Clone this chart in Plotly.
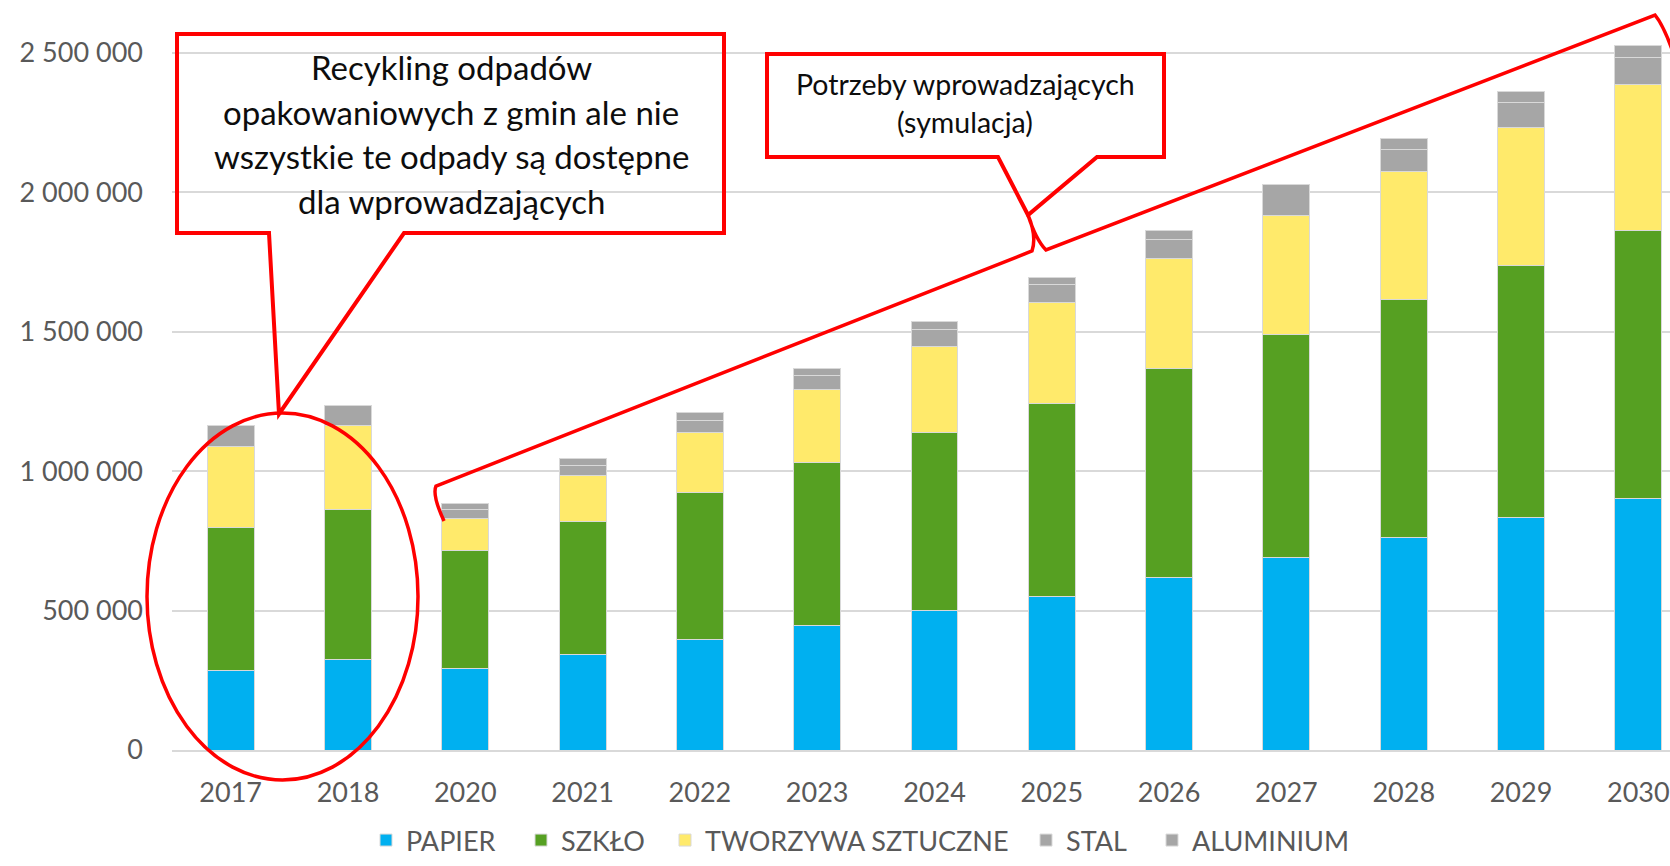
import plotly.graph_objects as go

# ---------------- data ----------------
YEARS = ['2017', '2018', '2020', '2021', '2022', '2023', '2024', '2025', '2026', '2027', '2028', '2029', '2030']
PAPIER = [284000, 326000, 291000, 342000, 395000, 447000, 500000, 550000, 620000, 691000, 763000, 833000, 903000]
SZKLO = [513000, 537000, 425000, 479000, 530000, 585000, 638000, 693000, 747000, 800000, 852000, 905000, 959000]
TWORZYWA = [291000, 300000, 115000, 163000, 213000, 262000, 309000, 360000, 394000, 425000, 459000, 495000, 526000]
STAL = [74000, 74000, 33000, 37000, 45000, 50000, 60000, 65000, 71000, 111000, 80000, 88000, 97000]
ALUMINIUM = [0, 0, 21000, 25000, 26000, 25000, 28000, 28000, 31000, 0, 40000, 39000, 40000]

SERIES_NAMES = ['PAPIER', 'SZKŁO', 'TWORZYWA SZTUCZNE', 'STAL', 'ALUMINIUM']
Y_TICK_VALUES = [0, 500000, 1000000, 1500000, 2000000, 2500000]
Y_TICK_LABELS = ['0', '500 000', '1 000 000', '1 500 000', '2 000 000', '2 500 000']

CALLOUT_1 = ['Recykling odpadów', 'opakowaniowych z gmin ale nie',
             'wszystkie te odpady są dostępne', 'dla wprowadzających']
CALLOUT_2 = ['Potrzeby wprowadzających', '(symulacja)']

# ---------------- styling / layout geometry ----------------
W, H = 1670, 866
PL, PR, PT, PB = 172, 1670, 11, 750  # plot area in pixels
COLORS = ['#00B0F0', '#56A022', '#FFEA6B', '#A6A6A6', '#A6A6A6']
LEGEND_X_PX = [366, 521, 665, 1026, 1152]
FONT = 'Lato, Open Sans, sans-serif'
RED = '#FF0000'


def px(x):
    return (x - PL) / (PR - PL)


def py(y):
    return (PB - y) / (PB - PT)


def qpath(segs):
    out = []
    for cmd, *pts in segs:
        coords = ' '.join(f'{px(a):.5f},{py(b):.5f}' for a, b in pts)
        out.append(f'{cmd} {coords}'.strip())
    return ' '.join(out)


fig = go.Figure()
legend_ids = ['legend', 'legend2', 'legend3', 'legend4', 'legend5']
for name, vals, col, lid in zip(SERIES_NAMES, [PAPIER, SZKLO, TWORZYWA, STAL, ALUMINIUM], COLORS, legend_ids):
    fig.add_trace(go.Bar(
        x=YEARS, y=vals, name=name, legend=lid,
        marker=dict(color=col, line=dict(color='#D9D9D9', width=1)),
    ))

shapes = []
# callout box 1 with tail
shapes.append(dict(type='path', xref='paper', yref='paper',
                   path=qpath([('M', (177, 34)), ('L', (724, 34)), ('L', (724, 233)), ('L', (404, 233)),
                               ('L', (279, 414)), ('L', (269, 233)), ('L', (177, 233)), ('Z',)]),
                   line=dict(color=RED, width=4), fillcolor='rgba(0,0,0,0)', layer='above'))
# callout box 2 with tail
shapes.append(dict(type='path', xref='paper', yref='paper',
                   path=qpath([('M', (767, 54)), ('L', (1164, 54)), ('L', (1164, 157)), ('L', (1097, 157)),
                               ('L', (1028, 215)), ('L', (998, 157)), ('L', (767, 157)), ('Z',)]),
                   line=dict(color=RED, width=4), fillcolor='rgba(0,0,0,0)', layer='above'))
# ellipse round 2017-2018
shapes.append(dict(type='circle', xref='paper', yref='paper',
                   x0=px(147), x1=px(418), y0=py(780), y1=py(413),
                   line=dict(color=RED, width=3.5), layer='above'))
# brace over the simulation years
shapes.append(dict(type='path', xref='paper', yref='paper',
                   path=qpath([('M', (444, 521)), ('Q', (432, 495), (436, 486)), ('L', (1032, 251)),
                               ('Q', (1037, 236), (1028, 215)), ('Q', (1036, 240), (1046, 250)),
                               ('L', (1655, 15)), ('Q', (1664, 26), (1674, 55))]),
                   line=dict(color=RED, width=3.5), layer='above'))

annotations = []
for txt, yc in zip(CALLOUT_1, [67, 112, 156, 201]):
    annotations.append(dict(text=txt, xref='paper', yref='paper', x=px(451), y=py(yc),
                            xanchor='center', yanchor='middle', showarrow=False,
                            font=dict(family=FONT, size=33, color='#0D0D0D')))
for txt, yc in zip(CALLOUT_2, [84, 122]):
    annotations.append(dict(text=txt, xref='paper', yref='paper', x=px(965), y=py(yc),
                            xanchor='center', yanchor='middle', showarrow=False,
                            font=dict(family=FONT, size=28.5, color='#0D0D0D')))

legend_layout = {}
for lid, lx in zip(legend_ids, LEGEND_X_PX):
    legend_layout[lid] = dict(orientation='h', x=px(lx), xanchor='left', y=py(865), yanchor='bottom',
                              font=dict(family=FONT, size=27, color='#595959'),
                              bgcolor='rgba(0,0,0,0)', borderwidth=0)

fig.update_layout(
    width=W, height=H,
    margin=dict(l=PL, r=W - PR, t=PT, b=H - PB, pad=0, autoexpand=False),
    barmode='stack', bargap=0.6,
    paper_bgcolor='white', plot_bgcolor='white',
    font=dict(family=FONT, color='#595959'),
    showlegend=True,
    shapes=shapes, annotations=annotations,
    **legend_layout,
)
fig.update_xaxes(type='category', range=[-0.5, 12.27], showgrid=False, showline=True,
                 linecolor='#D9D9D9', linewidth=1.5, ticks='', ticklabelstandoff=18,
                 tickfont=dict(family=FONT, size=27, color='#595959'), fixedrange=True)
fig.update_yaxes(range=[0, 2650000], tickvals=Y_TICK_VALUES, ticktext=Y_TICK_LABELS,
                 showgrid=True, gridcolor='#D9D9D9', gridwidth=1.5, zeroline=False,
                 ticks='', ticklabelstandoff=28, showline=False,
                 tickfont=dict(family=FONT, size=27, color='#595959'), fixedrange=True)

fig.write_html('out.html', config={'displayModeBar': False})
